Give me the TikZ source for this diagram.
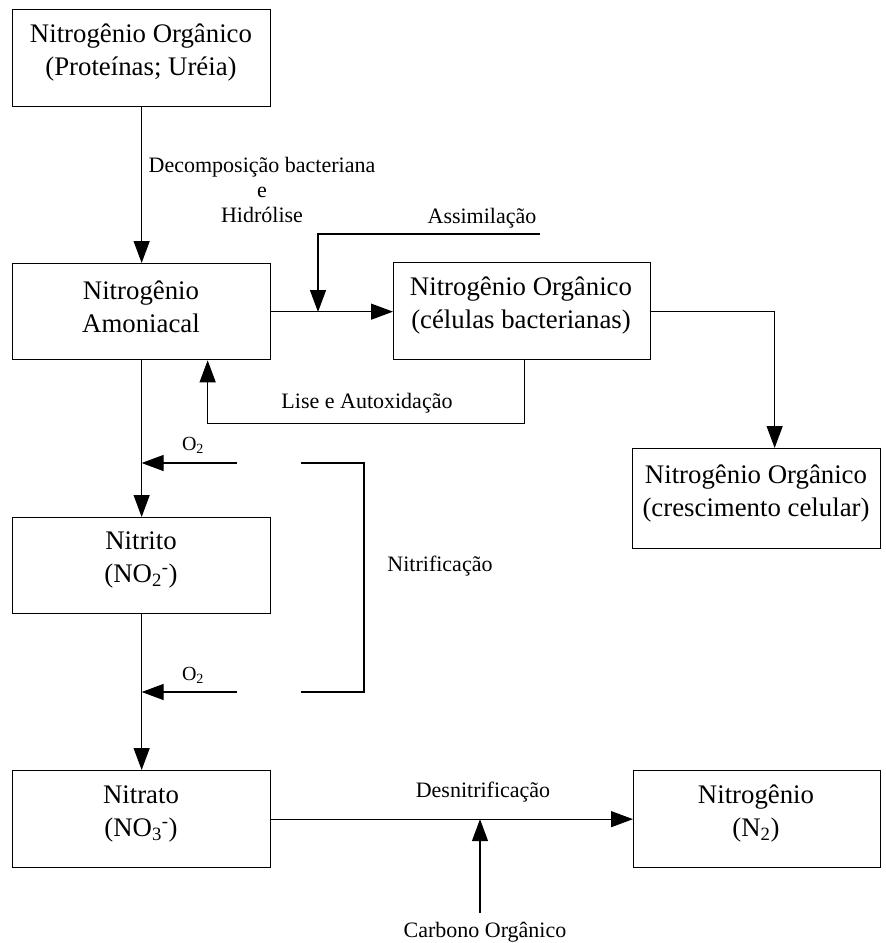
\documentclass[tikz,border=0pt]{standalone}
\usepackage{fontspec}
\setmainfont{Liberation Serif}
\usetikzlibrary{arrows.meta}
\begin{document}
\begin{tikzpicture}[x=1pt,y=-1pt,
  box/.style={draw, line width=1.3pt, inner sep=0pt, anchor=north west},
  txt/.style={align=center, font=\fontsize{26.8}{33}\selectfont, inner sep=0pt},
  lbl/.style={align=center, font=\fontsize{22}{25}\selectfont, inner sep=0pt},
  ln/.style={line width=1.3pt},
  arr/.style={ln, -{Triangle[length=22pt,width=16pt]}}
]
\useasboundingbox[fill=white] (0,0) rectangle (886,943);

% boxes
\node[box, minimum width=258pt, minimum height=97pt] (b1) at (12,9) {};
\node[box, minimum width=258pt, minimum height=96pt] (b2) at (12,263) {};
\node[box, minimum width=257pt, minimum height=97pt] (b3) at (393,262) {};
\node[box, minimum width=248pt, minimum height=100pt] (b4) at (632,448) {};
\node[box, minimum width=258pt, minimum height=96pt] (b5) at (12,517) {};
\node[box, minimum width=258pt, minimum height=97pt] (b6) at (12,770) {};
\node[box, minimum width=247pt, minimum height=97pt] (b7) at (633,770) {};

% box texts
\node[txt] (t1) at (141,53) {Nitrogênio Orgânico\\(Proteínas; Uréia)};
\node[txt] (t2) at (141,307) {Nitrogênio\\Amoniacal};
\node[txt] (t3) at (521,306) {Nitrogênio Orgânico\\(células bacterianas)};
\node[txt] (t4) at (756,494) {Nitrogênio Orgânico\\(crescimento celular)};
\node[txt] (t5) at (141,560) {Nitrito\\(NO\textsubscript{2}\textsuperscript{-})};
\node[txt] (t6) at (141,814) {Nitrato\\(NO\textsubscript{3}\textsuperscript{-})};
\node[txt] (t7) at (756,814) {Nitrogênio\\(N\textsubscript{2})};

% labels
\node[lbl] (l1) at (262,190) {Decomposição bacteriana\\e\\Hidrólise};
\node[lbl] (l2) at (482,218) {Assimilação};
\node[lbl] (l3) at (367,403) {Lise e Autoxidação};
\node[lbl, font=\fontsize{20}{24}\selectfont] (l4) at (193,445) {O\textsubscript{2}};
\node[lbl, font=\fontsize{20}{24}\selectfont] (l5) at (193,675) {O\textsubscript{2}};
\node[lbl] (l6) at (440,566) {Nitrificação};
\node[lbl] (l7) at (483,792) {Desnitrificação};
\node[lbl] (l8) at (485,932) {Carbono Orgânico};

% free ends
\coordinate (as) at (540,234);
\coordinate (aj) at (318,312);
\coordinate (o1) at (237,463);
\coordinate (o2) at (237,692);
\coordinate (k1) at (301,463);
\coordinate (k2) at (364,463);
\coordinate (k3) at (364,692);
\coordinate (k4) at (301,692);
\coordinate (c0) at (480,913);

% connectors
\draw[arr] (b1.south) -- (b2.north);
\draw[arr] (b2.east) -- (b2.east -| b3.west);
\draw[arr] (as) -| (aj);
\draw[arr] ([xshift=2.5pt]b3.south) -- ++(0,63) -| ([xshift=66pt]b2.south);
\draw[arr] (b3.east) -| ([xshift=18pt]b4.north);
\draw[arr] (b2.south) -- (b5.north);
\draw[arr] (o1) -- (o1 -| b2.south);
\draw[ln] (k1) -- (k2) -- (k3) -- (k4);
\draw[arr] (b5.south) -- (b6.north);
\draw[arr] (o2) -- (o2 -| b5.south);
\draw[arr] (b6.east) -- (b6.east -| b7.west);
\draw[arr] (c0) -- (c0 |- b6.east);
\end{tikzpicture}
\end{document}
